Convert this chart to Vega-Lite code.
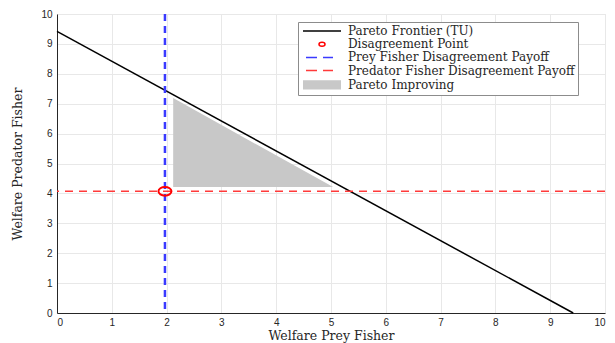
{
  "$schema": "https://vega.github.io/schema/vega-lite/v6.json",
  "width": 548,
  "height": 299,
  "autosize": {"type": "none"},
  "padding": {"left": 57, "top": 14, "right": 10, "bottom": 30},
  "background": "white",
  "config": {
    "view": {"stroke": "#dddddd"},
    "axis": {
      "tickCount": 10,
      "gridColor": "#e8e8e8",
      "domainColor": "#262626",
      "tickSize": 0,
      "labelFont": "Liberation Sans",
      "labelFontSize": 10,
      "labelColor": "#262626",
      "titleFont": "DejaVu Serif",
      "titleFontWeight": "normal",
      "titleFontSize": 12.5,
      "titleColor": "#262626"
    },
    "axisX": {"labelPadding": 4, "titlePadding": 2},
    "axisY": {"labelPadding": 5, "titlePadding": 16}
  },
  "datasets": {
    "frontier": [
      {"x": 0, "y": 9.42, "series": "Pareto Frontier (TU)"},
      {"x": 9.42, "y": 0, "series": "Pareto Frontier (TU)"}
    ],
    "point": [
      {"x": 1.97, "y": 4.07, "series": "Disagreement Point"}
    ],
    "vline": [
      {"x": 1.97, "series": "Prey Fisher Disagreement Payoff"}
    ],
    "hline": [
      {"y": 4.07, "series": "Predator Fisher Disagreement Payoff"}
    ],
    "region": [
      {"x": 2.12, "y": 7.19, "y2": 4.21, "series": "Pareto Improving"},
      {"x": 5.04, "y": 4.21, "y2": 4.21, "series": "Pareto Improving"}
    ]
  },
  "layer": [
    {
      "data": {"name": "region"},
      "mark": {"type": "area", "opacity": 1, "color": "#c8c8c8"},
      "encoding": {
        "x": {"field": "x", "type": "quantitative", "scale": {"domain": [0, 10], "nice": false}, "title": "Welfare Prey Fisher"},
        "y": {"field": "y", "type": "quantitative", "scale": {"domain": [0, 10], "nice": false}, "title": "Welfare Predator Fisher"},
        "y2": {"field": "y2"}
      }
    },
    {
      "data": {"name": "frontier"},
      "mark": {"type": "line", "strokeWidth": 1.5, "color": "#000000"},
      "encoding": {
        "x": {"field": "x", "type": "quantitative", "title": "Welfare Prey Fisher"},
        "y": {"field": "y", "type": "quantitative", "title": "Welfare Predator Fisher"}
      }
    },
    {
      "data": {"name": "vline"},
      "mark": {"type": "rule", "strokeWidth": 2.5, "strokeDash": [7, 5], "color": "#3a3aff"},
      "encoding": {
        "x": {"field": "x", "type": "quantitative", "title": "Welfare Prey Fisher"}
      }
    },
    {
      "data": {"name": "hline"},
      "mark": {"type": "rule", "strokeWidth": 1.5, "strokeDash": [8, 6], "color": "#ff3a3a"},
      "encoding": {
        "y": {"field": "y", "type": "quantitative", "title": "Welfare Predator Fisher"}
      }
    },
    {
      "data": {"name": "point"},
      "mark": {"type": "point", "filled": false, "strokeWidth": 2, "size": 470, "opacity": 1},
      "encoding": {
        "x": {"field": "x", "type": "quantitative", "title": "Welfare Prey Fisher"},
        "y": {"field": "y", "type": "quantitative", "title": "Welfare Predator Fisher"},
        "color": {
          "field": "series",
          "type": "nominal",
          "scale": {
            "domain": ["Pareto Frontier (TU)", "Disagreement Point", "Prey Fisher Disagreement Payoff", "Predator Fisher Disagreement Payoff", "Pareto Improving"],
            "range": ["#000000", "#ff0000", "#3a3aff", "#ff3a3a", "#c8c8c8"]
          },
          "legend": {
            "title": null,
            "orient": "none",
            "legendX": 241,
            "legendY": 8,
            "padding": 3,
            "strokeColor": "#8c8c8c",
            "fillColor": "white",
            "labelFont": "DejaVu Serif",
            "labelFontSize": 12,
            "labelColor": "#262626",
            "labelLimit": 400,
            "symbolSize": 100,
            "symbolOffset": 15,
            "rowPadding": 1.2,
            "labelOffset": 20,
            "symbolStrokeWidth": 1.5
          }
        },
        "shape": {
          "field": "series",
          "type": "nominal",
          "scale": {
            "domain": ["Pareto Frontier (TU)", "Disagreement Point", "Prey Fisher Disagreement Payoff", "Predator Fisher Disagreement Payoff", "Pareto Improving"],
            "range": [
              "M-3.8,0H3.8",
              "M-0.6,0A0.6,0.4 0 1,0 0.6,0A0.6,0.4 0 1,0 -0.6,0Z",
              "M-3.2,0H-1M0.2,0H2.2",
              "M-3.2,0H-1M0.2,0H2.2",
              "M-3.8,-0.78H3.8M-3.8,-0.52H3.8M-3.8,-0.26H3.8M-3.8,0H3.8M-3.8,0.26H3.8M-3.8,0.52H3.8M-3.8,0.78H3.8"
            ]
          },
          "legend": {
            "title": null,
            "orient": "none",
            "legendX": 241,
            "legendY": 8,
            "padding": 3,
            "strokeColor": "#8c8c8c",
            "fillColor": "white",
            "labelFont": "DejaVu Serif",
            "labelFontSize": 12,
            "labelColor": "#262626",
            "labelLimit": 400,
            "symbolSize": 100,
            "symbolOffset": 15,
            "rowPadding": 1.2,
            "labelOffset": 20,
            "symbolStrokeWidth": 1.5
          }
        }
      }
    }
  ]
}
